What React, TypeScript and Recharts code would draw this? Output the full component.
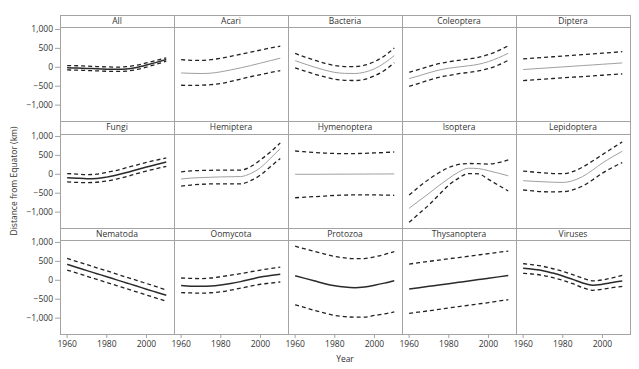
import React from 'react';
import { LineChart, Line, XAxis, YAxis } from 'recharts';

const YEARS = [1960, 1965, 1970, 1975, 1980, 1985, 1990, 1995, 2000, 2005, 2010];
const Y_TICKS = [-1000, -500, 0, 500, 1000];
const X_TICKS = [1960, 1980, 2000];
const Y_DOMAIN: [number, number] = [-1420, 1065];
const X_DOMAIN: [number, number] = [1956.4, 2013.9];

const PANEL_NAMES = ['All', 'Acari', 'Bacteria', 'Coleoptera', 'Diptera', 'Fungi', 'Hemiptera', 'Hymenoptera', 'Isoptera', 'Lepidoptera', 'Nematoda', 'Oomycota', 'Protozoa', 'Thysanoptera', 'Viruses'];
const DARK_CENTER = [true, false, false, false, false, true, false, false, false, false, true, true, true, true, true];

const ALL_MID = [-15, -20, -30, -40, -50, -55, -45, -5, 60, 130, 205];
const ALL_HI = [45, 40, 30, 20, 10, 5, 15, 55, 115, 180, 250];
const ALL_LO = [-70, -75, -85, -95, -105, -110, -100, -60, 5, 80, 160];

const ACARI_MID = [-150, -160, -165, -155, -120, -70, -15, 45, 110, 175, 240];
const ACARI_HI = [200, 185, 180, 200, 240, 290, 345, 400, 455, 510, 560];
const ACARI_LO = [-475, -480, -475, -460, -430, -375, -310, -250, -195, -140, -90];

const BACT_MID = [175, 85, 0, -75, -135, -160, -165, -130, -40, 110, 310];
const BACT_HI = [365, 270, 185, 105, 45, 20, 20, 55, 150, 300, 510];
const BACT_LO = [-15, -100, -185, -255, -315, -345, -350, -320, -225, -85, 120];

const COLEO_MID = [-300, -225, -145, -75, -25, 10, 40, 80, 150, 250, 370];
const COLEO_HI = [-130, -55, 25, 95, 145, 185, 220, 265, 335, 440, 570];
const COLEO_LO = [-505, -425, -340, -265, -215, -170, -135, -95, -35, 60, 185];

const DIPT_MID = [-60, -42, -25, -7, 10, 28, 45, 62, 80, 97, 115];
const DIPT_HI = [220, 240, 260, 278, 297, 316, 335, 355, 374, 393, 412];
const DIPT_LO = [-350, -332, -315, -297, -280, -262, -245, -227, -210, -192, -175];

const FUNGI_MID = [-90, -105, -115, -110, -75, -20, 45, 120, 190, 260, 325];
const FUNGI_HI = [20, 5, -10, 5, 50, 105, 175, 245, 315, 375, 430];
const FUNGI_LO = [-200, -215, -220, -210, -175, -125, -60, 15, 85, 150, 210];

const HEMI_MID = [-125, -100, -88, -78, -70, -65, -60, 20, 175, 420, 680];
const HEMI_HI = [65, 90, 100, 105, 110, 108, 110, 200, 380, 590, 830];
const HEMI_LO = [-315, -285, -265, -255, -255, -255, -255, -170, -20, 200, 420];

const HYME_MID = [0, 0, 0, 2, 3, 4, 5, 6, 7, 8, 10];
const HYME_HI = [615, 595, 575, 560, 550, 545, 548, 555, 565, 575, 590];
const HYME_LO = [-620, -605, -590, -575, -560, -550, -545, -545, -545, -550, -555];

const ISOP_MID = [-900, -700, -505, -300, -110, 60, 160, 150, 95, 30, -40];
const ISOP_HI = [-550, -330, -130, 40, 180, 260, 285, 280, 270, 310, 380];
const ISOP_LO = [-1270, -1040, -810, -545, -285, -100, 20, 10, -135, -290, -440];

const LEPI_MID = [-170, -185, -197, -210, -215, -170, -60, 110, 300, 460, 610];
const LEPI_HI = [85, 60, 40, 20, 15, 70, 190, 350, 520, 690, 855];
const LEPI_LO = [-415, -440, -460, -465, -460, -410, -310, -150, 30, 180, 310];

const NEMA_MID = [420, 340, 255, 175, 95, 10, -70, -150, -235, -315, -395];
const NEMA_HI = [580, 495, 415, 330, 250, 165, 80, 0, -85, -170, -255];
const NEMA_LO = [270, 190, 105, 25, -60, -140, -225, -305, -390, -470, -555];

const OOMY_MID = [-140, -155, -158, -150, -123, -85, -35, 25, 88, 125, 158];
const OOMY_HI = [60, 50, 45, 60, 95, 135, 175, 225, 270, 310, 350];
const OOMY_LO = [-325, -335, -340, -330, -305, -260, -210, -155, -105, -75, -45];

const PROT_MID = [120, 50, -20, -90, -145, -180, -195, -175, -130, -75, -10];
const PROT_HI = [900, 830, 760, 690, 630, 590, 570, 575, 620, 680, 760];
const PROT_LO = [-650, -720, -800, -870, -930, -960, -975, -975, -930, -890, -835];

const THYS_MID = [-230, -195, -160, -125, -90, -55, -20, 20, 55, 90, 125];
const THYS_HI = [430, 465, 500, 535, 570, 600, 635, 670, 705, 740, 770];
const THYS_LO = [-875, -840, -805, -770, -730, -695, -660, -625, -590, -550, -515];

const VIRU_MID = [315, 290, 255, 190, 115, 25, -70, -130, -105, -60, -20];
const VIRU_HI = [440, 410, 370, 305, 235, 150, 60, -15, 10, 65, 130];
const VIRU_LO = [185, 165, 130, 70, 0, -90, -195, -265, -235, -195, -160];

const MIDS = [ALL_MID, ACARI_MID, BACT_MID, COLEO_MID, DIPT_MID, FUNGI_MID, HEMI_MID, HYME_MID, ISOP_MID, LEPI_MID, NEMA_MID, OOMY_MID, PROT_MID, THYS_MID, VIRU_MID];
const HIS = [ALL_HI, ACARI_HI, BACT_HI, COLEO_HI, DIPT_HI, FUNGI_HI, HEMI_HI, HYME_HI, ISOP_HI, LEPI_HI, NEMA_HI, OOMY_HI, PROT_HI, THYS_HI, VIRU_HI];
const LOS = [ALL_LO, ACARI_LO, BACT_LO, COLEO_LO, DIPT_LO, FUNGI_LO, HEMI_LO, HYME_LO, ISOP_LO, LEPI_LO, NEMA_LO, OOMY_LO, PROT_LO, THYS_LO, VIRU_LO];

const FONT = "'Open Sans', 'DejaVu Sans', sans-serif";
const BORDER = '#a3a3a3';
const TEXT = '#333';

const LEFT0 = 59.5;
const COLW = 114;
const STRIP_TOP0 = 14.5;
const STRIPH = 12.5;
const PLOTH = 94;
const ROWH = STRIPH + PLOTH;
const YAXIS_W = 50;
const XAXIS_H = 22;
const PAD = 8;

const fmtY = (v: number) => {
  if (v === 0) return '0';
  const a = Math.abs(v);
  const s = a >= 1000 ? `${Math.floor(a / 1000)},${String(a % 1000).padStart(3, '0')}` : String(a);
  return (v < 0 ? '\u2212' : '') + s;
};

function Panel({ idx }: { idx: number }) {
  const r = Math.floor(idx / 5);
  const c = idx % 5;
  const showY = c === 0;
  const showX = r === 2;
  const plotLeft = LEFT0 + c * COLW;
  const stripTop = STRIP_TOP0 + r * ROWH;
  const plotTop = stripTop + STRIPH;
  const data = YEARS.map((y, i) => ({ year: y, mid: MIDS[idx][i], hi: HIS[idx][i], lo: LOS[idx][i] }));
  const dark = DARK_CENTER[idx];
  return (
    <>
      <div
        style={{
          position: 'absolute', left: plotLeft - (showY ? YAXIS_W : PAD), top: plotTop - PAD,
        }}
      >
        <LineChart
          width={COLW + (showY ? YAXIS_W : PAD) + PAD}
          height={PLOTH + PAD + (showX ? XAXIS_H : PAD)}
          data={data}
          margin={{ top: PAD, right: PAD, bottom: showX ? 0 : PAD, left: showY ? 0 : PAD }}
        >
          <XAxis
            dataKey="year"
            type="number"
            domain={X_DOMAIN}
            ticks={X_TICKS}
            interval={0}
            hide={!showX}
            height={XAXIS_H}
            axisLine={false}
            tickLine={{ stroke: BORDER }}
            tickSize={4}
            tickMargin={3}
            tick={{ fontSize: 8.5, fill: TEXT, fontFamily: FONT }}
            allowDataOverflow
          />
          <YAxis
            type="number"
            domain={Y_DOMAIN}
            ticks={Y_TICKS}
            interval={0}
            hide={!showY}
            width={YAXIS_W}
            axisLine={false}
            tickLine={{ stroke: BORDER }}
            tickSize={5}
            tickMargin={2}
            tickFormatter={fmtY}
            tick={{ fontSize: 8.5, fill: TEXT, fontFamily: FONT }}
            allowDataOverflow
          />
          <Line dataKey="hi" type="monotone" stroke="#222" strokeWidth={1.3} strokeDasharray="4 3" dot={false} isAnimationActive={false} />
          <Line dataKey="lo" type="monotone" stroke="#222" strokeWidth={1.3} strokeDasharray="4 3" dot={false} isAnimationActive={false} />
          <Line
            dataKey="mid"
            type="monotone"
            stroke={dark ? '#2a2a2a' : '#a0a0a0'}
            strokeWidth={dark ? 1.5 : 1}
            dot={false}
            isAnimationActive={false}
          />
        </LineChart>
      </div>
      <div
        style={{
          position: 'absolute', left: plotLeft, top: stripTop, width: COLW + 1, height: STRIPH + 1,
          borderBottom: `1px solid ${BORDER}`, boxSizing: 'border-box', textAlign: 'center', background: '#fff',
          fontSize: 8.5, lineHeight: `${STRIPH}px`, color: TEXT, fontFamily: FONT, zIndex: 3,
        }}
      >
        {PANEL_NAMES[idx]}
      </div>
      <div
        style={{
          position: 'absolute', left: plotLeft, top: stripTop, width: COLW + 1, height: ROWH + 1,
          border: `1px solid ${BORDER}`, boxSizing: 'border-box', pointerEvents: 'none', zIndex: 4,
        }}
      />
    </>
  );
}

export default function App() {
  return (
    <div style={{ position: 'absolute', left: 0, top: 0, width: 639, height: 369, background: '#fff', fontFamily: FONT, overflow: 'hidden' }}>
      {PANEL_NAMES.map((_, i) => (
        <Panel key={i} idx={i} />
      ))}
      <svg width={639} height={369} style={{ position: 'absolute', left: 0, top: 0, pointerEvents: 'none' }}>
        <text x={13} y={181} transform="rotate(-90 13 181)" textAnchor="middle" dominantBaseline="central" fontSize={8.5} fill={TEXT} fontFamily={FONT}>
          Distance from Equator (km)
        </text>
        <text x={345} y={358} textAnchor="middle" dominantBaseline="central" fontSize={8.5} fill={TEXT} fontFamily={FONT}>
          Year
        </text>
      </svg>
    </div>
  );
}
